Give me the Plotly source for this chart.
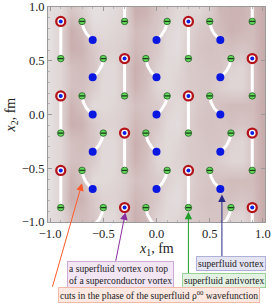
import numpy as np
import plotly.graph_objects as go

# ---------------- data (fm) ----------------
# superfluid vortex on top of a superconductor vortex (red rings)
red_x = [-0.9, 0.3, -0.3, 0.9, -0.9, 0.3, -0.3, 0.9, -0.9, 0.3, -0.3, 0.9]
red_y = [0.866, 0.866, 0.52, 0.52, 0.173, 0.173, -0.173, -0.173, -0.52, -0.52, -0.866, -0.866]

# superfluid antivortices (green)
green_x = [-0.7, -0.3, 0.1, 0.5, 0.9,
           -0.9, -0.5, -0.1, 0.3, 0.7,
           -0.7, -0.3, 0.1, 0.5, 0.9,
           -0.9, -0.5, -0.1, 0.3, 0.7,
           -0.7, -0.3, 0.1, 0.5, 0.9,
           -0.9, -0.5, -0.1, 0.3, 0.7]
green_y = [0.866] * 5 + [0.52] * 5 + [0.173] * 5 + [-0.173] * 5 + [-0.52] * 5 + [-0.866] * 5

# superfluid vortices (blue)
blue_x = [-0.6, 0.0, 0.6] * 5
blue_y = [0.693] * 3 + [0.346] * 3 + [0.0] * 3 + [-0.346] * 3 + [-0.693] * 3

# phase cuts: start -> end, bend flag (0 straight, 1 curved)
cut_x0 = [-0.9, 0.3, -0.3, 0.9, -0.3, 0.9, -0.9, 0.3, -0.3, 0.9, -0.9, 0.3, -0.3, 0.9,
          -0.7, 0.1, 0.5, -0.5, -0.1, 0.7, -0.7, 0.1, 0.5, -0.5, -0.1, 0.7, -0.7, 0.1, 0.5,
          -0.5, -0.1, 0.7]
cut_y0 = [0.866, 0.866, 1.05, 1.05, 0.52, 0.52, 0.173, 0.173, -0.173, -0.173, -0.52, -0.52,
          -0.866, -0.866,
          0.866, 0.866, 0.866, 0.52, 0.52, 0.52, 0.173, 0.173, 0.173, -0.173, -0.173, -0.173,
          -0.52, -0.52, -0.52, -0.866, -0.866, -0.866]
cut_x1 = [-0.9, 0.3, -0.3, 0.9, -0.3, 0.9, -0.9, 0.3, -0.3, 0.9, -0.9, 0.3, -0.3, 0.9,
          -0.6, 0.0, 0.6, -0.6, 0.0, 0.6, -0.6, 0.0, 0.6, -0.6, 0.0, 0.6, -0.6, 0.0, 0.6,
          -0.6, 0.0, 0.6]
cut_y1 = [0.52, 0.52, 0.866, 0.866, 0.173, 0.173, -0.173, -0.173, -0.52, -0.52, -0.866, -0.866,
          -1.05, -1.05,
          0.693, 0.693, 0.693, 0.346, 0.346, 0.346, 0.0, 0.0, 0.0, -0.346, -0.346, -0.346,
          -0.693, -0.693, -0.693, -1.039, -1.039, -1.039]
cut_bend = [0] * 14 + [1] * 18

# background shading of the phase (0 = light grey, 1 = dusky pink), read by eye
shade_x = [-1.0, -0.9, -0.8, -0.7, -0.6, -0.5, -0.4, -0.3, -0.2, -0.1, 0.0,
           0.1, 0.2, 0.3, 0.4, 0.5, 0.6, 0.7, 0.8, 0.9, 1.0]
shade_y = [0.953, 0.78, 0.606, 0.433, 0.26, 0.087, -0.087, -0.26, -0.433, -0.606, -0.78, -0.953]
shade_z = [
    [.15, .20, .50, .35, .10, .12, .18, .30, .75, .70, .50, .35, .20, .25, .25, .40, .65, .70, .70, .60, .80],
    [.10, .30, .75, .60, .20, .20, .25, .30, .60, .55, .45, .25, .15, .30, .45, .50, .60, .70, .65, .60, .80],
    [.10, .30, .75, .70, .45, .30, .30, .40, .65, .55, .45, .20, .15, .35, .50, .55, .50, .55, .50, .55, .80],
    [.15, .25, .55, .60, .50, .20, .20, .45, .75, .60, .30, .20, .25, .40, .45, .50, .50, .30, .25, .50, .80],
    [.15, .25, .55, .55, .40, .20, .20, .45, .70, .55, .25, .20, .30, .40, .45, .45, .35, .25, .25, .50, .80],
    [.10, .30, .70, .55, .20, .20, .25, .35, .55, .50, .40, .30, .20, .30, .45, .50, .55, .60, .60, .60, .80],
    [.10, .30, .75, .70, .45, .30, .30, .40, .65, .55, .45, .20, .15, .35, .50, .55, .50, .55, .50, .55, .80],
    [.15, .25, .55, .60, .50, .20, .20, .45, .75, .60, .30, .20, .25, .40, .45, .50, .50, .30, .25, .50, .80],
    [.15, .25, .55, .55, .40, .20, .20, .45, .70, .55, .25, .20, .30, .40, .45, .45, .35, .25, .25, .50, .80],
    [.10, .30, .70, .55, .20, .20, .25, .35, .55, .50, .40, .30, .20, .30, .45, .50, .55, .60, .60, .60, .80],
    [.10, .30, .75, .70, .45, .30, .30, .40, .65, .55, .45, .20, .15, .35, .50, .55, .50, .55, .50, .55, .80],
    [.15, .25, .55, .60, .50, .20, .20, .45, .75, .60, .30, .20, .25, .40, .45, .50, .50, .30, .25, .50, .80],
]

tick_vals = [-1.0, -0.5, 0.0, 0.5, 1.0]

# ---------------- figure ----------------
SERIF = "Liberation Serif"
fig = go.Figure()

fig.add_trace(go.Heatmap(
    x=shade_x, y=shade_y, z=shade_z, zmin=0, zmax=1, zsmooth="best",
    colorscale=[[0, "#e9e7e7"], [0.5, "#d6c4c4"], [1, "#bf9a9a"]],
    showscale=False, hoverinfo="skip"))

# cuts drawn as white lines
cx, cy = [], []
t = np.linspace(0, 1, 20)
for x0, y0, x1, y1, b in zip(cut_x0, cut_y0, cut_x1, cut_y1, cut_bend):
    if b:
        qx = x0 + 0.1 * (x1 - x0)
        qy = y0 + 0.6 * (y1 - y0)
        px = (1 - t) ** 2 * x0 + 2 * (1 - t) * t * qx + t ** 2 * x1
        py = (1 - t) ** 2 * y0 + 2 * (1 - t) * t * qy + t ** 2 * y1
        cx += list(px) + [None]
        cy += list(py) + [None]
    else:
        cx += [x0, x1, None]
        cy += [y0, y1, None]
fig.add_trace(go.Scatter(x=cx, y=cy, mode="lines", line=dict(color="white", width=3),
                         hoverinfo="skip", showlegend=False))

fig.add_trace(go.Scatter(x=red_x, y=red_y, mode="markers", showlegend=False, hoverinfo="skip",
                         marker=dict(size=9, color="white", line=dict(color="#b3121a", width=2.3))))
fig.add_trace(go.Scatter(x=red_x, y=red_y, mode="markers", showlegend=False, hoverinfo="skip",
                         marker=dict(size=4, color="#0a1fe6", line=dict(width=0))))
fig.add_trace(go.Scatter(x=green_x, y=green_y, mode="markers", showlegend=False, hoverinfo="skip",
                         marker=dict(size=6.5, color="#62dc5a", line=dict(color="#2f6a2f", width=0.9))))
fig.add_trace(go.Scatter(x=green_x, y=green_y, mode="markers", showlegend=False, hoverinfo="skip",
                         marker=dict(size=4, symbol="line-ew", line=dict(color="#1d3a1d", width=1.3))))
fig.add_trace(go.Scatter(x=blue_x, y=blue_y, mode="markers", showlegend=False, hoverinfo="skip",
                         marker=dict(size=8, color="#0a17e0", line=dict(width=0))))

axis_common = dict(showgrid=False, zeroline=False, showline=True, linecolor="#9a9a9a",
                   linewidth=1, mirror="ticks", ticks="inside", ticklen=4, tickcolor="#9a9a9a",
                   tickvals=tick_vals, tickformat=".1f", automargin=False,
                   tickfont=dict(family=SERIF, size=12.5, color="#222222"),
                   minor=dict(ticks="inside", ticklen=2, dtick=0.1, tickcolor="#b5b5b5"))
fig.update_xaxes(range=[-1.02, 1.02], **axis_common)
fig.update_yaxes(range=[-1.0, 1.0], **axis_common)

ann = []
# axis titles
ann.append(dict(text="<i>x</i><sub>1</sub>, fm", xref="paper", yref="paper", x=0.502, y=-0.13,
                showarrow=False, font=dict(family=SERIF, size=14, color="#222222"),
                xanchor="center", yanchor="middle"))
ann.append(dict(text="<i>x</i><sub>2</sub>, fm", xref="paper", yref="paper", x=-0.166, y=0.5,
                showarrow=False, textangle=-90, font=dict(family=SERIF, size=14, color="#222222"),
                xanchor="center", yanchor="middle"))

# arrows
arrows = [
    dict(x=0.615, y=-0.745, ax=0, ay=63, color="#262a86"),
    dict(x=0.30, y=-0.905, ax=0, ay=63, color="#1f9e2a"),
    dict(x=-0.292, y=-0.91, ax=-10, ay=50, color="#8a2ea0"),
    dict(x=-0.70, y=-0.64, ax=-30, ay=105, color="#ff5a2a"),
]
for a in arrows:
    ann.append(dict(x=a["x"], y=a["y"], xref="x", yref="y", ax=a["ax"], ay=a["ay"], text="",
                    showarrow=True, arrowhead=2, arrowsize=1.5, arrowwidth=1,
                    arrowcolor=a["color"]))

# label boxes
boxes = [
    ("superfluid vortex", 0.8433, -0.1953, "#e4e4f2", "#aeb0d8"),
    ("superfluid antivortex", 0.8111, -0.2744, "#e4f2e4", "#9ad09a"),
    ("a superfluid vortex on top<br>of a superconductor vortex", 0.3341, -0.2465, "#f2e6f4", "#cfa9d8"),
    ("cuts in the phase of the superfluid ρ<sup>00</sup> wavefunction", 0.5138, -0.3395, "#fde9e1", "#f4b9a6"),
]
for txt, bx, by, bg, bc in boxes:
    ann.append(dict(text=txt, xref="paper", yref="paper", x=bx, y=by, showarrow=False,
                    xanchor="center", yanchor="middle", align="left",
                    bgcolor=bg, bordercolor=bc, borderwidth=1, borderpad=1,
                    font=dict(family=SERIF, size=9.6, color="#222222")))

fig.update_layout(width=273, height=304, margin=dict(l=48, r=8, t=7, b=82),
                  paper_bgcolor="white", plot_bgcolor="white", annotations=ann,
                  showlegend=False)

fig.write_html("out.html", config={"displayModeBar": False},
               post_script="document.body.style.margin='0px';")
